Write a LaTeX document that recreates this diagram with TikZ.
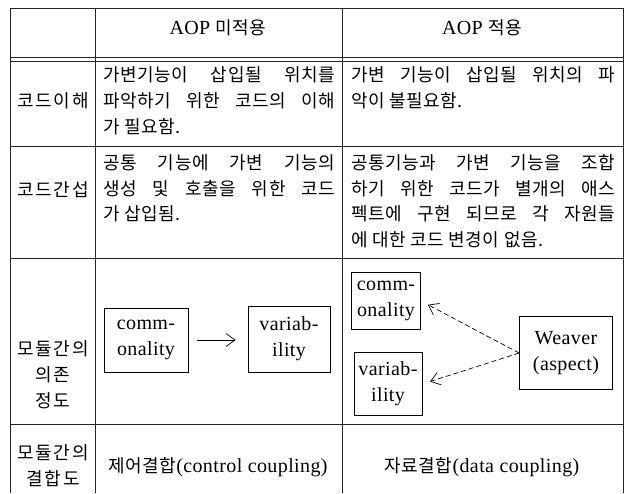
\documentclass[tikz,border=0pt]{standalone}
\usepackage{fontspec}
\setmainfont[LetterSpace=2]{Liberation Serif}
\newfontfamily\kr[LetterSpace=3]{Noto Sans CJK KR}
\newfontfamily\krl[LetterSpace=10]{Noto Sans CJK KR}
\usetikzlibrary{arrows.meta}
\newcommand\K[1]{{\kr\fontsize{18}{20}\selectfont #1}}
\newcommand\KL[1]{{\krl\fontsize{18}{20}\selectfont #1}}
\newcommand\JL[1]{\makebox[232pt][s]{\K{#1}}}
\newcommand\JR[1]{\makebox[264pt][s]{\K{#1}}}
\begin{document}
\begin{tikzpicture}[x=1pt,y=-1pt,
  gridline/.style={line width=0.9pt, black!85},
  tl/.style={inner sep=0pt, anchor=base west, font=\fontsize{20}{22}\selectfont},
  tc/.style={inner sep=0pt, anchor=base, font=\fontsize{20}{22}\selectfont},
  box/.style={draw, line width=0.8pt, align=center, inner sep=0pt,
    font=\fontsize{20}{26}\selectfont},
  arr/.style={-{Straight Barb[length=9pt,width=13pt]}, line width=0.7pt},
  darr/.style={arr, dashed, dash pattern=on 5pt off 3pt}]
\useasboundingbox (0,0) rectangle (631,493);
% table grid
\draw[gridline] (10,8) -- (623,8);
\draw[gridline] (10,57) -- (623,57);
\draw[gridline] (10,61) -- (623,61);
\draw[gridline] (10,146) -- (623,146);
\draw[gridline] (10,258) -- (623,258);
\draw[gridline] (10,424) -- (623,424);
\draw[gridline] (10,8) -- (10,493);
\draw[gridline] (95,8) -- (95,493);
\draw[gridline] (342,8) -- (342,493);
\draw[gridline] (623,8) -- (623,493);
% header
\node[tc] (h1) at (218,34) {AOP \K{미적용}};
\node[tc] (h2) at (482,34) {AOP \K{적용}};
% row labels
\node[tc] (l1) at (53,107) {\KL{코드이해}};
\node[tc] (l2) at (53,196) {\KL{코드간섭}};
\node[tc] (l3a) at (53,355) {\KL{모듈간의}};
\node[tc] (l3b) at (53,381) {\KL{의존}};
\node[tc] (l3c) at (53,407) {\KL{정도}};
\node[tc] (l4a) at (53,459) {\KL{모듈간의}};
\node[tc] (l4b) at (53,485) {\KL{결합도}};
% row 2
\node[tl] (a1) at (103,81) {\JL{가변기능이 삽입될 위치를}};
\node[tl] (a2) at (103,107) {\JL{파악하기 위한 코드의 이해}};
\node[tl] (a3) at (103,133) {\K{가 필요함.}};
\node[tl] (b1) at (351,81) {\JR{가변 기능이 삽입될 위치의 파}};
\node[tl] (b2) at (351,107) {\K{악이 불필요함.}};
% row 3
\node[tl] (c1) at (103,169) {\JL{공통 기능에 가변 기능의}};
\node[tl] (c2) at (103,195) {\JL{생성 및 호출을 위한 코드}};
\node[tl] (c3) at (103,220) {\K{가 삽입됨.}};
\node[tl] (d1) at (351,169) {\JR{공통기능과 가변 기능을 조합}};
\node[tl] (d2) at (351,195) {\JR{하기 위한 코드가 별개의 애스}};
\node[tl] (d3) at (351,220) {\JR{펙트에 구현 되므로 각 자원들}};
\node[tl] (d4) at (351,246) {\K{에 대한 코드 변경이 없음.}};
% row 4 left
\node[box, minimum width=84pt, minimum height=64pt] (cl) at (146,340) {comm-\\onality};
\node[box, minimum width=82pt, minimum height=66pt] (vl) at (289,339) {variab-\\ility};
\draw[arr, shorten <=9pt, shorten >=12pt] (cl.east) -- (vl.west |- cl.east);
% row 4 right
\node[box, minimum width=69pt, minimum height=57pt] (cr) at (386,301) {comm-\\onality};
\node[box, minimum width=68pt, minimum height=63pt] (vr) at (388,384) {variab-\\ility};
\node[box, minimum width=93pt, minimum height=73pt] (w) at (566,353) {Weaver\\(aspect)};
\draw[darr, shorten >=8pt] (w.west) -- (cr.east);
\draw[darr, shorten >=8pt] (w.west) -- (vr.east);
% row 5
\node[tc] (e1) at (218,472) {\K{제어결합}(control coupling)};
\node[tc] (e2) at (482,472) {\K{자료결합}(data coupling)};
\end{tikzpicture}
\end{document}
